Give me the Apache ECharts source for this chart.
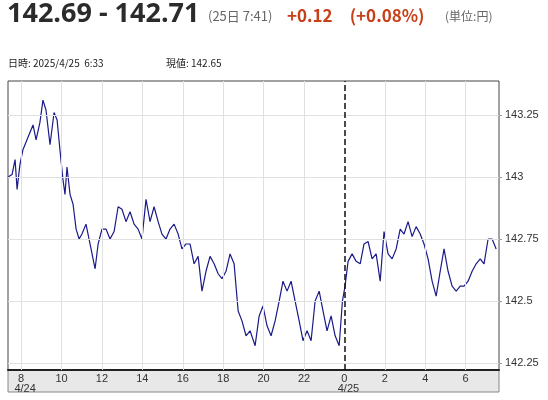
<!DOCTYPE html>
<html><head><meta charset="utf-8">
<script src="https://cdn.jsdelivr.net/npm/echarts@6/dist/echarts.min.js"></script>
<style>html,body{margin:0;padding:0;background:#fff}#c{width:548px;height:400px}</style>
</head><body><div id="c"></div>
<script>
const hours=[7.35,7.55,7.70,7.80,7.94,8.09,8.29,8.44,8.59,8.74,8.93,9.08,9.23,9.43,9.63,9.78,9.92,10.07,10.17,10.27,10.42,10.57,10.72,10.87,11.01,11.21,11.41,11.66,11.81,
12.00,12.20,12.40,12.60,12.80,12.99,13.19,13.39,13.59,13.79,13.98,14.18,14.38,14.58,14.78,14.97,15.17,15.37,15.57,15.77,15.96,16.16,16.36,16.56,16.76,16.95,17.15,17.35,17.55,17.75,17.94,18.14,18.34,18.54,18.74,18.93,19.13,19.33,19.58,19.78,19.97,20.17,20.37,20.57,20.77,20.96,21.16,21.36,21.56,21.76,21.95,22.15,22.35,22.55,22.75,22.94,23.14,23.34,23.54,23.74,23.90,
24.03,24.18,24.38,24.58,24.78,24.97,25.17,25.37,25.57,25.77,25.96,26.16,26.36,26.56,26.76,26.95,27.15,27.35,27.55,27.75,27.94,28.14,28.34,28.54,28.74,28.93,29.13,29.33,29.53,29.73,29.92,30.12,30.32,30.52,30.72,30.91,31.11,31.31,31.51];
const prices=[143.00,143.01,143.07,142.95,143.05,143.11,143.15,143.18,143.21,143.15,143.22,143.31,143.27,143.13,143.26,143.23,143.11,142.99,142.93,143.04,142.93,142.89,142.79,142.75,142.77,142.81,142.73,142.63,142.73,
142.79,142.79,142.75,142.78,142.88,142.87,142.82,142.86,142.81,142.79,142.75,142.91,142.82,142.88,142.82,142.77,142.75,142.79,142.81,142.77,142.71,142.73,142.73,142.65,142.68,142.54,142.62,142.68,142.65,142.61,142.59,142.62,142.69,142.65,142.46,142.42,142.36,142.38,142.32,142.44,142.48,142.40,142.36,142.42,142.50,142.58,142.54,142.58,142.50,142.42,142.34,142.38,142.34,142.50,142.54,142.46,142.38,142.44,142.36,142.32,142.50,
142.56,142.66,142.69,142.66,142.65,142.73,142.74,142.67,142.69,142.58,142.78,142.69,142.67,142.71,142.79,142.77,142.82,142.76,142.80,142.77,142.73,142.67,142.58,142.52,142.62,142.71,142.62,142.56,142.54,142.56,142.56,142.58,142.62,142.65,142.67,142.65,142.75,142.75,142.71];
const xTicks=[8,10,12,14,16,18,20,22,24,26,28,30];
const yTicks=[142.25,142.5,142.75,143,143.25];
const yLabels={142.25:'142.25',142.5:'142.5',142.75:'142.75',143:'143',143.25:'143.25'};
const chart=echarts.init(document.getElementById('c'));
const L=8,R=499,T=81,B=370;
chart.setOption({
 animation:false,
 grid:{left:L,right:548-R,top:T,bottom:400-B,show:true,borderColor:'#444',borderWidth:1,backgroundColor:'#fff'},
 graphic:[
  {type:'rect',shape:{x:L,y:B,width:R-L,height:22},style:{fill:'#e8e8e8',stroke:'#888',lineWidth:1},z:-1},
  {type:'text',left:7,top:1,style:{text:'142.69 - 142.71',font:'bold 27px "Open Sans",sans-serif',fill:'#2b2b2b'}},
  {type:'text',left:208,top:10,style:{text:'(25日 7:41)',font:'13px "Noto Sans CJK JP",sans-serif',fill:'#666'}},
  {type:'text',left:287,top:7,style:{text:'+0.12\u3000(+0.08%)',font:'bold 17px "Noto Sans CJK JP",sans-serif',fill:'#c8401a'}},
  {type:'text',left:445,top:10,style:{text:'(単位:円)',font:'12px "Noto Sans CJK JP",sans-serif',fill:'#666'}},
  {type:'text',left:8,top:58,style:{text:'日時: 2025/4/25  6:33',font:'10px "Noto Sans CJK JP",sans-serif',fill:'#222'}},
  {type:'text',left:166,top:58,style:{text:'現値: 142.65',font:'10px "Noto Sans CJK JP",sans-serif',fill:'#222'}}
 ],
 xAxis:{type:'value',min:7.35,max:31.65,
  axisLine:{show:true,lineStyle:{color:'#222',width:2}},axisTick:{show:false},splitLine:{show:false},
  axisLabel:{customValues:xTicks,margin:4,color:'#333',fontSize:11,lineHeight:10,
   formatter:v=>{const h=Math.round(v)%24;return v===8?h+'\n{d|4/24}':(v===24?h+'\n{d|4/25}':h+'');},
   rich:{d:{fontSize:11,padding:[0,0,0,8],color:'#333'}}}},
 yAxis:{type:'value',position:'right',min:142.222,max:143.387,
  axisLine:{show:false},splitLine:{show:false},
  axisTick:{show:true,customValues:yTicks,length:3,lineStyle:{color:'#999'}},
  axisLabel:{customValues:yTicks,color:'#333',fontSize:11,margin:6,formatter:v=>yLabels[v]||v}},
 series:[{type:'line',data:hours.map((h,i)=>[h,prices[i]]),showSymbol:false,
  lineStyle:{color:'#1a1a8a',width:1.2},
  markLine:{silent:true,symbol:'none',label:{show:false},animation:false,
   lineStyle:{color:'#e0e0e0',type:'solid',width:1},
   data:[...xTicks.filter(v=>v!==24).map(v=>({xAxis:v})),...yTicks.map(v=>({yAxis:v})),
     {xAxis:24,lineStyle:{color:'#111',type:'dashed',width:1.5}}]},z:3}]
});
</script></body></html>
